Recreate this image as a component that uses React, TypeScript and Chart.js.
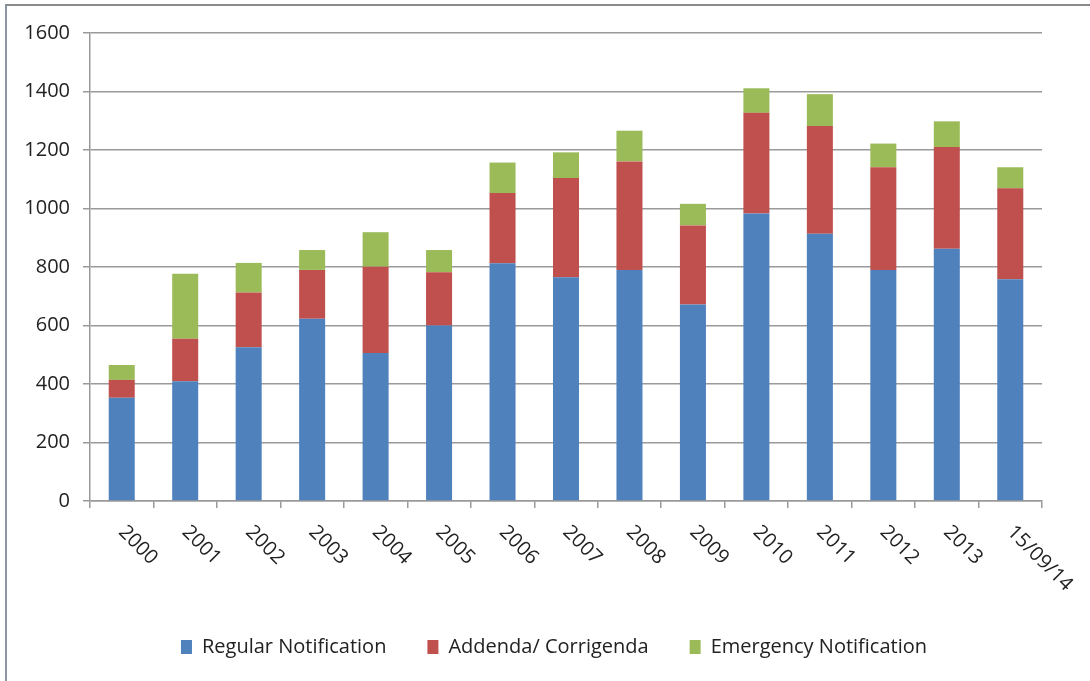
import React, { useEffect, useRef } from "react";
import { Chart, registerables } from "chart.js";

Chart.register(...registerables);

const categories = ["2000", "2001", "2002", "2003", "2004", "2005", "2006", "2007", "2008", "2009", "2010", "2011", "2012", "2013", "15/09/14"];
const regularNotification = [353, 409, 526, 623, 506, 600, 813, 765, 790, 672, 983, 914, 790, 862, 758];
const addendaCorrigenda = [61, 146, 187, 167, 295, 182, 240, 339, 371, 270, 344, 368, 351, 348, 311];
const emergencyNotification = [51, 222, 101, 68, 118, 76, 104, 88, 105, 74, 84, 109, 81, 88, 72];
const yTicks = { min: 0, max: 1600, step: 200 };

const FONT = "'Open Sans', 'Liberation Sans', sans-serif";
const TEXT = "#222222";
const GRID = "#9a9a9a";

const rotatedXLabels = {
  id: "rotatedXLabels",
  afterDraw(chart: any) {
    const xs = chart.scales.x;
    const ctx = chart.ctx;
    ctx.save();
    ctx.font = `20px ${FONT}`;
    ctx.fillStyle = TEXT;
    ctx.textAlign = "left";
    ctx.textBaseline = "middle";
    categories.forEach((lab, i) => {
      const x = xs.getPixelForTick(i);
      const y = xs.top + 28;
      ctx.save();
      ctx.translate(x, y);
      ctx.rotate(Math.PI / 4);
      ctx.fillText(lab, 0, 0);
      ctx.restore();
    });
    ctx.restore();
  },
};

export default function App() {
  const ref = useRef<HTMLCanvasElement | null>(null);

  useEffect(() => {
    const canvas = ref.current;
    if (!canvas) return;
    const chart = new Chart(canvas, {
      type: "bar",
      data: {
        labels: categories,
        datasets: [
          { label: "Regular Notification", data: regularNotification, backgroundColor: "#4F81BD" },
          { label: "Addenda/ Corrigenda", data: addendaCorrigenda, backgroundColor: "#C0504D" },
          { label: "Emergency Notification", data: emergencyNotification, backgroundColor: "#9BBB59" },
        ],
      },
      options: {
        animation: false,
        responsive: false,
        maintainAspectRatio: false,
        datasets: { bar: { categoryPercentage: 1, barPercentage: 0.41 } },
        layout: { padding: { left: 18, right: 0, top: 33, bottom: 14 } },
        plugins: {
          tooltip: { enabled: false },
          legend: {
            position: "bottom",
            labels: {
              font: { family: FONT, size: 20 },
              color: TEXT,
              boxWidth: 11,
              boxHeight: 14,
              padding: 41,
            },
          },
        },
        scales: {
          x: {
            stacked: true,
            grid: { display: true, drawOnChartArea: false, drawTicks: true, tickLength: 7, color: GRID, lineWidth: 1.5, offset: true },
            border: { display: true, color: GRID, width: 1.5 },
            ticks: { display: false },
            afterFit: (s: any) => { s.height = 95; },
          },
          y: {
            stacked: true,
            min: yTicks.min,
            max: yTicks.max,
            ticks: {
              stepSize: yTicks.step,
              padding: 13,
              color: TEXT,
              font: { family: FONT, size: 20 },
              callback: (v: any) => String(v),
            },
            grid: { color: GRID, lineWidth: 1.5, tickLength: 7, drawTicks: true },
            border: { display: true, color: GRID, width: 1.5 },
            afterFit: (s: any) => { s.width = 72; },
          },
          yRightSpacer: {
            type: "linear",
            position: "right",
            display: true,
            grid: { display: false, drawTicks: false },
            ticks: { display: false },
            border: { display: false },
            afterFit: (s: any) => { s.width = 48; },
          },
        },
      },
      plugins: [rotatedXLabels],
    });
    return () => chart.destroy();
  }, []);

  return (
    <div style={{ position: "absolute", left: 0, top: 0, width: 1090, height: 681, background: "#fff" }}>
      <div style={{ position: "absolute", left: 5, top: 4, right: 0, bottom: 0, borderTop: "2px solid #8a8a8a", borderLeft: "2px solid #8b95a6" }} />
      <canvas ref={ref} width={1090} height={681} style={{ position: "absolute", left: 0, top: 0 }} />
    </div>
  );
}
